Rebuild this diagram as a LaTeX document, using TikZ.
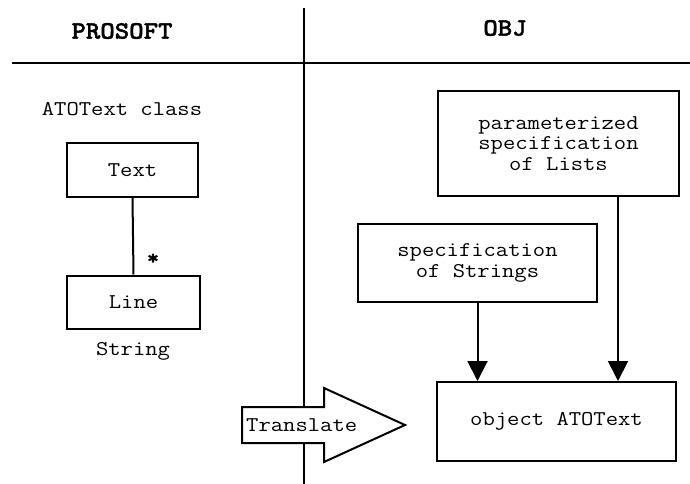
\documentclass[tikz,border=0pt]{standalone}
\usepackage{fontspec}
\setmainfont[FakeStretch=1.14]{Latin Modern Mono}
\newfontfamily\headfont[FakeStretch=1.1,FakeBold=1.5]{lmmonolt10-bold.otf}
\usetikzlibrary{arrows.meta}
\begin{document}
\begin{tikzpicture}[x=1pt,y=-1pt,
  every node/.style={font=\fontsize{21}{20.5}\selectfont},
  title/.style={font=\fontsize{25}{26}\selectfont\headfont},
  box/.style={draw,line width=2pt,inner sep=0pt,align=center},
  rule/.style={line width=2pt},
  link/.style={line width=2pt},
  flow/.style={line width=2pt,-{Triangle[length=20pt,width=20pt]}},
  bigarrow/.style={draw,line width=2pt,fill=white,line join=miter}]
\useasboundingbox (0,0) rectangle (690,484);

% column rules
\coordinate (vtop) at (304,8);
\coordinate (vbot) at (304,484);
\coordinate (hl) at (12,63);
\coordinate (hr) at (690,63);
\draw[rule] (vtop) -- (vbot);
\draw[rule] (hl) -- (hr);

% headings
\node[title] (prosoft) at (122,31) {PROSOFT};
\node[title] (obj) at (505,28) {OBJ};

% PROSOFT side: class diagram
\node (cls) at (122,109) {ATOText class};
\node[box,minimum width=131pt,minimum height=54pt] (text) at (132.5,170) {Text};
\node[box,minimum width=133pt,minimum height=53pt] (line) at (133.5,302) {Line};
\node (str) at (133,351) {String};
\draw[link] (text.south) -- (line.north);
\node[font=\fontsize{21}{20.5}\selectfont\headfont] (mult) at (153,259) {*};

% OBJ side: specifications
\node[box,minimum width=241pt,minimum height=105pt] (lists) at (558.5,143.5)
  {parameterized\\specification\\of Lists};
\node[box,minimum width=239pt,minimum height=78pt] (strings) at (477.5,263)
  {specification\\of Strings};
\node[box,minimum width=239pt,minimum height=79pt] (object) at (556.5,421.5)
  {object ATOText};

\coordinate (la) at ([xshift=59.5pt]lists.south);
\draw[flow] (strings.south) -- (strings.south |- object.north);
\draw[flow] (la) -- (la |- object.north);

% translation arrow
\draw[bigarrow] (242,407) -- (324,407) -- (324,388) -- (405,425)
  -- (324,462) -- (324,443) -- (242,443) -- cycle;
\node[anchor=west,inner sep=0pt] (translate) at (246,425) {Translate};
\end{tikzpicture}
\end{document}
